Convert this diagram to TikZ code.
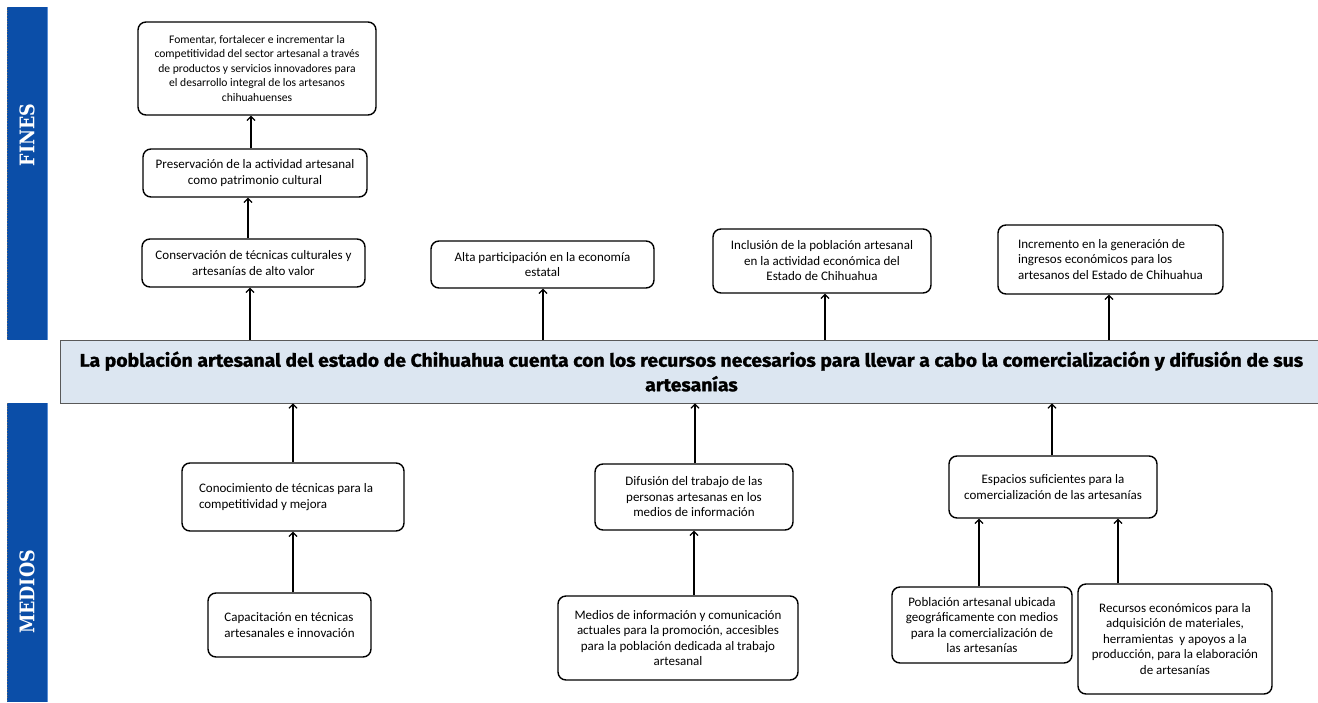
\documentclass[tikz,border=0pt]{standalone}
\usepackage{fontspec}
\usepackage{graphicx}
\setmainfont{Carlito}
\newfontfamily\titlefont{Fira Sans}[BoldFeatures={FakeStretch=1.06,FakeBold=1.2}]
\newfontfamily\barfont{DejaVu Serif}
\usetikzlibrary{arrows.meta}
\definecolor{barblue}{HTML}{0B4EA8}
\definecolor{baredge}{HTML}{5B8FD6}
\definecolor{mainfill}{HTML}{DCE6F1}
\tikzset{
  box/.style={draw=black, line width=1.4pt, rounded corners=8pt, fill=white, inner sep=0pt, align=center, font=\fontsize{13}{15.5}\selectfont},
  arr/.style={draw=black, line width=1.4pt, -{Straight Barb[length=4pt,width=8pt,line width=1.2pt]}},
  bartext/.style={text=white, rotate=90, font=\barfont\bfseries\fontsize{17.5}{20}\selectfont},
  barfill/.style={fill=barblue},
}
\begin{document}
\begin{tikzpicture}[x=1pt,y=-1pt]
\useasboundingbox (0,0) rectangle (1318,702);
\fill[white] (0,0) rectangle (1318,702);
% side bars
\fill[barfill] (7,7) rectangle (47,340);
\fill[barfill] (7,403) rectangle (47,702);
\draw[baredge, line width=0.8pt] (47,7) -- (47,340);
\draw[baredge, line width=0.8pt] (47,403) -- (47,702);
\draw[black!60, dotted, line width=0.7pt] (7,7) -- (7,340);
\draw[black!60, dotted, line width=0.7pt] (7,403) -- (7,702);
\node[bartext] (fines) at (27,135) {\scalebox{1}[1.15]{FINES}};
\node[bartext] (medios) at (27,592) {\scalebox{1}[1.15]{MEDIOS}};
% main problem
\node[draw=black!65, fill=mainfill, line width=0.9pt, minimum width=1262pt, minimum height=63pt, anchor=west, inner sep=0pt, align=center,
      font=\titlefont\bfseries\fontsize{18.3}{24.5}\selectfont] (main) at (60,371.5)
  {La población artesanal del estado de Chihuahua cuenta con los recursos necesarios para llevar a cabo la comercialización y difusión de sus\\artesanías};
% fines
\node[box, minimum width=238pt, minimum height=93pt, font=\fontsize{11.6}{14.5}\selectfont] (fom) at (257,68.5)
  {Fomentar, fortalecer e incrementar la\\competitividad del sector artesanal a través\\de productos y servicios innovadores para\\el desarrollo integral de los artesanos\\chihuahuenses};
\node[box, minimum width=224pt, minimum height=48pt] (pres) at (255,173)
  {Preservación de la actividad artesanal\\como patrimonio cultural};
\node[box, minimum width=223pt, minimum height=48pt] (cons) at (253.5,263)
  {Conservación de técnicas culturales y\\artesanías de alto valor};
\node[box, minimum width=223pt, minimum height=47pt] (alta) at (542.5,264.5)
  {Alta participación en la economía\\estatal};
\node[box, minimum width=218pt, minimum height=64pt] (incl) at (822,261)
  {Inclusión de la población artesanal\\en la actividad económica del\\Estado de Chihuahua};
\node[box, minimum width=225pt, minimum height=69pt, align=left] (incr) at (1110.5,259.5)
  {Incremento en la generación de\\ingresos económicos para los\\artesanos del Estado de Chihuahua};
% medios
\node[box, minimum width=222pt, minimum height=68pt, align=flush left, text width=188pt, inner xsep=17pt] (cono) at (293,497)
  {Conocimiento de técnicas para la\\competitividad y mejora};
\node[box, minimum width=163pt, minimum height=64pt, align=left] (capa) at (289.5,625)
  {Capacitación en técnicas\\artesanales e innovación};
\node[box, minimum width=198pt, minimum height=66pt] (difu) at (694,497)
  {Difusión del trabajo de las\\personas artesanas en los\\medios de información};
\node[box, minimum width=240pt, minimum height=84pt] (med) at (678,638)
  {Medios de información y comunicación\\actuales para la promoción, accesibles\\para la población dedicada al trabajo\\artesanal};
\node[box, minimum width=208pt, minimum height=62pt] (esp) at (1053,487)
  {Espacios suficientes para la\\comercialización de las artesanías};
\node[box, minimum width=180pt, minimum height=76pt] (pob) at (982,625)
  {Población artesanal ubicada\\geográficamente con medios\\para la comercialización de\\las artesanías};
\node[box, minimum width=194pt, minimum height=110pt] (rec) at (1175,639)
  {Recursos económicos para la\\adquisición de materiales,\\herramientas\ \ y apoyos a la\\producción, para la elaboración\\de artesanías};
% arrow x positions
\coordinate (xa1) at (250,0);
\coordinate (xa2) at (248,0);
\coordinate (xa3) at (251,0);
\coordinate (xa4) at (543,0);
\coordinate (xa5) at (825,0);
\coordinate (xa6) at (1109,0);
\coordinate (xb1) at (293,0);
\coordinate (xb3) at (695,0);
\coordinate (xb4) at (694,0);
\coordinate (xb5) at (1052,0);
\coordinate (xb6) at (979,0);
\coordinate (xb7) at (1118,0);
% arrows fines
\draw[arr] (main.north -| xa1) -- (cons.south -| xa1);
\draw[arr] (cons.north -| xa2) -- (pres.south -| xa2);
\draw[arr] (pres.north -| xa3) -- (fom.south -| xa3);
\draw[arr] (main.north -| xa4) -- (alta.south -| xa4);
\draw[arr] (main.north -| xa5) -- (incl.south -| xa5);
\draw[arr] (main.north -| xa6) -- (incr.south -| xa6);
% arrows medios
\draw[arr] (cono.north -| xb1) -- (main.south -| xb1);
\draw[arr] (capa.north -| xb1) -- (cono.south -| xb1);
\draw[arr] (difu.north -| xb3) -- (main.south -| xb3);
\draw[arr] (med.north -| xb4) -- (difu.south -| xb4);
\draw[arr] (esp.north -| xb5) -- (main.south -| xb5);
\draw[arr] (pob.north -| xb6) -- (esp.south -| xb6);
\draw[arr] (rec.north -| xb7) -- (esp.south -| xb7);
\end{tikzpicture}
\end{document}
